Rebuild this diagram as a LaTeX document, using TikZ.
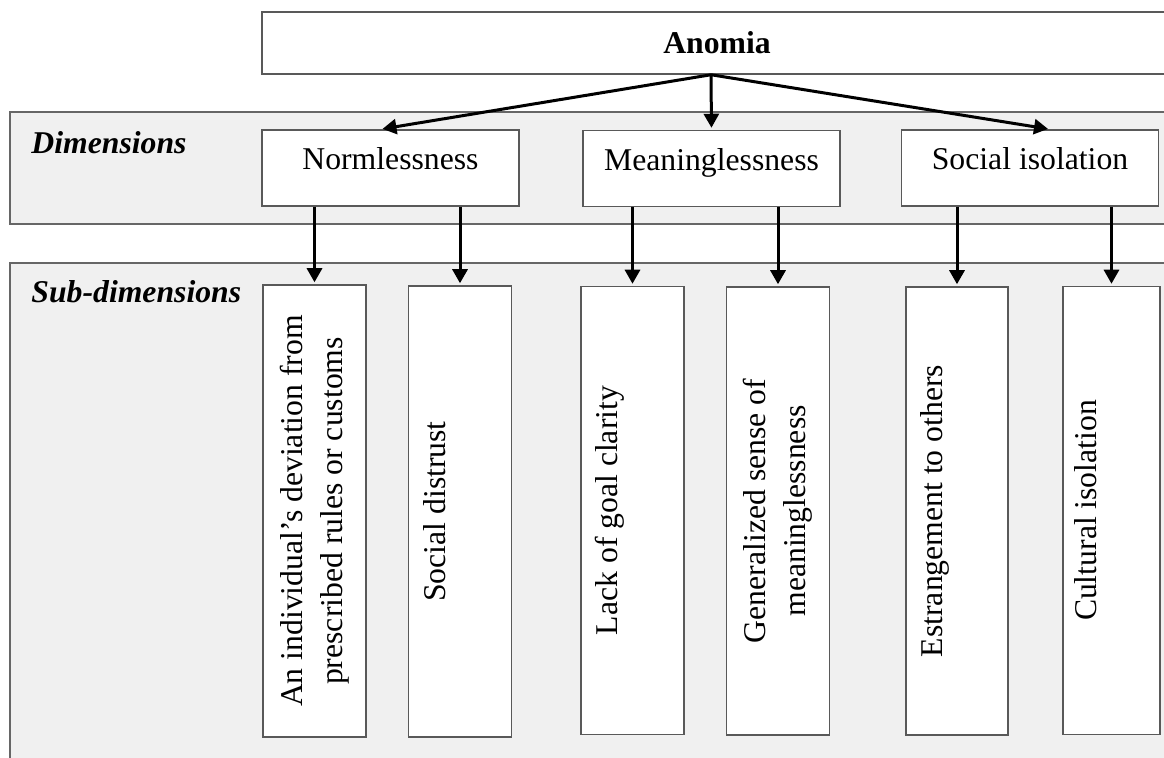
\documentclass[tikz,border=0pt]{standalone}
\usepackage{fontspec}
\setmainfont{Liberation Serif}
\usepackage{tikz}
\usetikzlibrary{arrows.meta}

\newcommand{\figfont}{\fontsize{15.85pt}{20pt}\selectfont}

\begin{document}
\begin{tikzpicture}[x=0.5pt, y=-0.5pt, >={Triangle[length=7pt,width=7.5pt]},
shorten >=1pt, line width=1.5pt, font=\figfont,
band/.style={arrows=-, draw=black!60, fill=black!6, line width=1pt},
bandname/.style={anchor=base west, inner sep=0pt, font=\figfont\bfseries\itshape},
box/.style={rectangle, draw=black!65, fill=white, line width=0.75pt, inner sep=0pt},
dimbox/.style={box, minimum width=128.5pt, minimum height=38pt,
  text height=11pt, text depth=9pt},
subbox/.style={box, rotate=90, align=center, minimum width=224pt,
  minimum height=51.5pt}]

\useasboundingbox (0,0) rectangle (1164,758);
\clip (0,0) rectangle (1164,758);

% grey bands
\draw[band] (10,112) rectangle (1200,224);
\draw[band] (10,263) rectangle (1200,800);
\node[bandname] (dimname) at (30,154) {Dimensions};
\node[bandname] (subname) at (30,303) {Sub-dimensions};

% concept
\node[box, minimum width=455pt, minimum height=31pt, font=\figfont\bfseries]
  (anomia) at (717,43) {Anomia};
\coordinate (fork) at ([xshift=-3pt]anomia.south);

% dimensions
\node[dimbox] (norm) at (390.5,168) {Normlessness};
\node[dimbox] (mean) at (711.5,168.5) {Meaninglessness};
\node[dimbox] (isol) at (1030,168) {Social isolation};

\draw[->] (fork) -- ([xshift=-5pt]norm.north);
\draw[->] (fork) -- (mean.north);
\draw[->] (fork) -- ([xshift=10pt]isol.north);

% sub-dimensions (rotated, so east is the top side)
\node[subbox, minimum width=226pt] (dev) at (314.5,511)
  {An individual’s deviation from\\prescribed rules or customs};
\node[subbox, minimum width=225.5pt] (distrust) at (460,511.5)
  {Social distrust\\\strut};
\node[subbox] (goal) at (632.5,510.5) {Lack of goal clarity\\\strut};
\node[subbox] (sense) at (778,511)
  {Generalized sense of\\meaninglessness};
\node[subbox, minimum height=51pt] (estr) at (957,511)
  {Estrangement to others\\\strut};
\node[subbox, minimum height=48.5pt] (cult) at (1111.5,510.5)
  {Cultural isolation\\\strut};

\draw[->] (norm.south -| dev.east) -- (dev.east);
\draw[->] (norm.south -| distrust.east) -- (distrust.east);
\draw[->] (mean.south -| goal.east) -- (goal.east);
\draw[->] (mean.south -| sense.east) -- (sense.east);
\draw[->] (isol.south -| estr.east) -- (estr.east);
\draw[->] (isol.south -| cult.east) -- (cult.east);

\end{tikzpicture}
\end{document}
